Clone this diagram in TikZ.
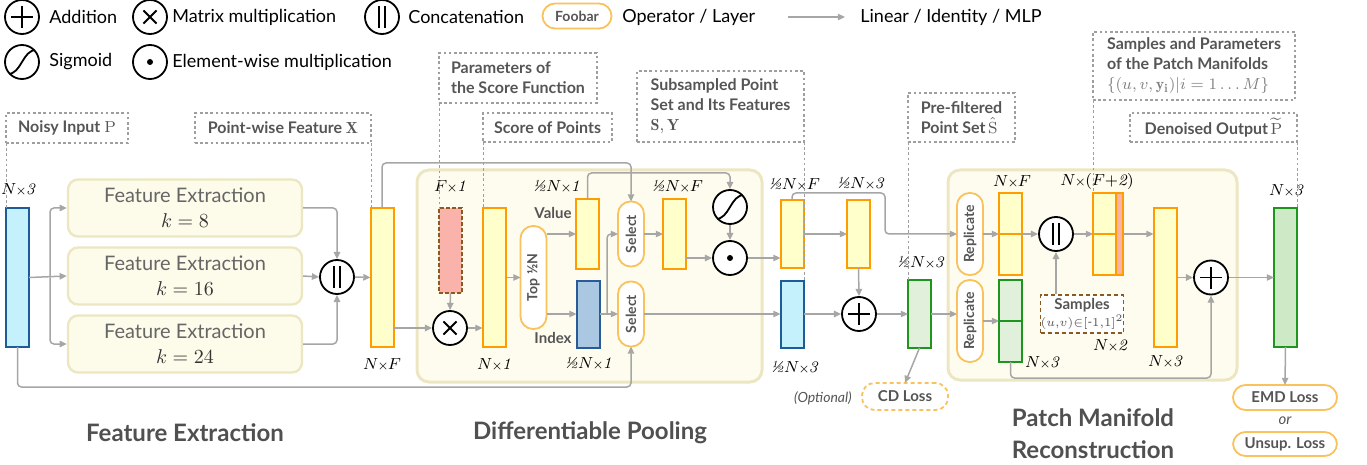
\documentclass[tikz,border=0pt]{standalone}
\usepackage{fontspec}
\newfontfamily\sansf{Lato}
\usetikzlibrary{arrows.meta}
\definecolor{arrgray}{HTML}{A6A6A6}
\definecolor{leadgray}{HTML}{9E9E9E}
\definecolor{notetxt}{HTML}{555555}
\definecolor{fetxt}{HTML}{666666}
\definecolor{ttlc}{HTML}{505050}
\definecolor{orng}{HTML}{FF9C00}
\definecolor{yel}{HTML}{FFFFCC}
\definecolor{cyanf}{HTML}{C4F1FC}
\definecolor{cyand}{HTML}{1C5C99}
\definecolor{idxf}{HTML}{AAC8E2}
\definecolor{idxd}{HTML}{295B96}
\definecolor{pinkf}{HTML}{F9B3AA}
\definecolor{brn}{HTML}{8B5A22}
\definecolor{grnf}{HTML}{E0F0DA}
\definecolor{grnf2}{HTML}{CDE9C6}
\definecolor{grnd}{HTML}{1E961E}
\definecolor{pillc}{HTML}{F9C25C}
\definecolor{bgf}{HTML}{FEFCEE}
\definecolor{feF}{HTML}{FDFBEA}
\definecolor{bgd}{HTML}{ECE7C2}
\newcommand{\hf}{\mbox{\normalfont\itshape ½}}
\newcommand{\tm}{\mkern-1mu{\scriptstyle\times}\mkern-1mu}
\tikzset{
  arr/.style={draw=arrgray,line width=.75pt,rounded corners=2pt,-{Triangle[length=3.6pt,width=3.2pt]}},
  lead/.style={draw=leadgray,line width=.5pt,dash pattern=on 1.3pt off 1.3pt},
  note/.style={draw=leadgray,line width=.6pt,dash pattern=on 1.3pt off 1.3pt,align=left,inner sep=0pt,outer sep=0pt,text=notetxt,font=\sansf\bfseries\fontsize{8}{10}\selectfont},
  grp/.style={draw=bgd,fill=bgf,line width=1.5pt,rounded corners=6pt,inner sep=0pt,outer sep=0pt},
  blk/.style={line width=1pt,minimum width=11.5pt,inner sep=0pt,outer sep=0pt},
  yblk/.style={blk,draw=orng,fill=yel},
  cblk/.style={blk,draw=cyand,fill=cyanf},
  iblk/.style={blk,draw=idxd,fill=idxf},
  gblk/.style={blk,draw=grnd,fill=grnf},
  tall/.style={minimum height=69.5pt},
  op/.style={circle,draw,line width=.9pt,minimum size=17pt,inner sep=0pt,fill=white},
  opadd/.style={op,path picture={\draw[black,line width=.9pt,shift={(path picture bounding box.center)}] (-5.5pt,0pt)--(5.5pt,0pt) (0pt,-5.5pt)--(0pt,5.5pt);}},
  opmul/.style={op,path picture={\draw[black,line width=.9pt,shift={(path picture bounding box.center)}] (-3.3pt,-3.3pt)--(3.3pt,3.3pt) (-3.3pt,3.3pt)--(3.3pt,-3.3pt);}},
  opcat/.style={op,path picture={\draw[black,line width=.9pt,shift={(path picture bounding box.center)}] (-1.6pt,-5.5pt)--(-1.6pt,5.5pt) (1.6pt,-5.5pt)--(1.6pt,5.5pt);}},
  opsig/.style={op,path picture={\draw[black,line width=.9pt,shift={(path picture bounding box.center)}] (-7.5pt,-6pt) .. controls (0pt,-6.5pt) and (0pt,6.5pt) .. (7.5pt,6pt);}},
  opdot/.style={op,path picture={\fill[black,shift={(path picture bounding box.center)}] (0pt,0pt) circle (1.5pt);}},
  pill/.style={draw=pillc,line width=.9pt,fill=white,rounded corners=6.25pt,inner sep=0pt,outer sep=0pt,text=notetxt,font=\sansf\bfseries\fontsize{7}{8}\selectfont},
  vpill/.style={pill,rotate=90,minimum height=13pt},
  febox/.style={draw=bgd,fill=feF,line width=1.2pt,rounded corners=5pt,minimum width=117pt,minimum height=28.5pt,inner sep=0pt,align=center,text=fetxt,font=\sansf\fontsize{10}{12.5}\selectfont},
  lbl/.style={inner sep=0pt,font=\fontsize{8}{10}\selectfont},
  lgtxt/.style={anchor=west,inner sep=0pt,font=\sansf\fontsize{9}{10}\selectfont},
  ttl/.style={align=center,text=ttlc,font=\sansf\bfseries\fontsize{12}{16}\selectfont},
}
\begin{document}
\begin{tikzpicture}[x=0.5pt,y=-0.5pt]
\useasboundingbox (0,0) rectangle (1367,465);
% legend
\foreach \nm/\st/\xx/\yy/\tx/\txt in {Add/opadd/22/17/49/Addition, Mul/opmul/150/17/172/Matrix multiplication, Cat/opcat/382/17/408/Concatenation, Sig/opsig/22/62/49/Sigmoid, Dot/opdot/150/62/172/Element-wise multiplication}{
  \node[\st] (lg\nm) at (\xx,\yy) {};
  \node[lgtxt] (lg\nm T) at (\tx,\yy) {\txt};
}
\node[pill,minimum width=34.5pt,minimum height=12.5pt] (lgOp) at (577,16) {Foobar};
\node[lgtxt] (lgOpT) at (622,17) {Operator / Layer};
\coordinate (lgA) at (788,17);
\coordinate (lgB) at (845,17);
\draw[arr] (lgA) -- (lgB);
\node[lgtxt] (lgArrT) at (860,17) {Linear / Identity / MLP};
% groups
\node[grp,minimum width=172.5pt,minimum height=106pt] (gPool) at (589.5,276) {};
\node[grp,minimum width=144.5pt,minimum height=105pt] (gPatch) at (1092.5,275) {};
% feature extraction
\node[cblk,tall] (inp) at (17.5,277.5) {};
\node[febox] (fe1) at (185,208) {Feature Extraction\\{\color{black!80}$k = 8$}};
\node[febox] (fe2) at (185,276) {Feature Extraction\\{\color{black!80}$k = 16$}};
\node[febox] (fe3) at (185,344) {Feature Extraction\\{\color{black!80}$k = 24$}};
\node[opcat] (cat1) at (337,277) {};
\node[yblk,tall] (xf) at (382,277.5) {};
% differentiable pooling
\node[blk,draw=brn,fill=pinkf,dash pattern=on 2pt off 1pt,minimum height=42.5pt] (wsc) at (450.5,250.5) {};
\node[opmul] (mm) at (450,328) {};
\node[yblk,tall] (sc) at (494,277.5) {};
\node[vpill,minimum width=51.5pt] (topk) at (533.5,277.5) {Top ½N};
\node[yblk,minimum height=34.5pt] (val) at (587.5,234) {};
\node[iblk,minimum height=33.5pt] (idx) at (588,314) {};
\node[inner sep=0pt,text=notetxt,font=\sansf\bfseries\fontsize{7.5}{9}\selectfont] (valT) at (553,213) {Value};
\node[inner sep=0pt,text=notetxt,font=\sansf\bfseries\fontsize{7.5}{9}\selectfont] (idxT) at (553,338) {Index};
\node[vpill,minimum width=32.5pt] (sel1) at (631,234) {Select};
\node[vpill,minimum width=32.5pt] (sel2) at (631,314) {Select};
\node[yblk,minimum height=34.5pt] (yf) at (674.5,234) {};
\node[opsig] (sig) at (730,207) {};
\node[opdot] (ew) at (730,258) {};
\node[yblk,minimum height=34pt] (yo) at (792,234) {};
\node[cblk,minimum height=33.5pt] (so) at (792,314) {};
\node[yblk,minimum height=34pt] (dp) at (858.5,234) {};
\node[opadd] (add1) at (859,314) {};
\node[gblk,minimum height=34pt] (sh) at (919.5,314) {};
\node[pill,dash pattern=on 2pt off 1.5pt,minimum width=43pt,minimum height=13.5pt,font=\sansf\bfseries\fontsize{7.5}{9}\selectfont] (cd) at (905,396.5) {CD Loss};
\node[inner sep=0pt,text=notetxt,font=\sansf\itshape\fontsize{7}{8}\selectfont] (optT) at (823,398) {(Optional)};
% patch manifold reconstruction
\node[vpill,minimum width=41pt] (rep1) at (970,234) {Replicate};
\node[vpill,minimum width=41pt] (rep2) at (970,321) {Replicate};
\node[yblk,minimum height=41pt] (rf) at (1010.5,234) {};
\node[gblk,minimum height=41pt] (rp) at (1010.5,321) {};
\draw[orng,line width=1pt] (rf.west) -- (rf.east);
\draw[grnd,line width=1pt] (rp.west) -- (rp.east);
\node[opcat] (cat2) at (1056,234) {};
\node[draw=brn,line width=.9pt,dash pattern=on 2pt off 1.5pt,fill=white,minimum width=41pt,minimum height=19pt,inner sep=0pt,align=center,text=notetxt,font=\sansf\bfseries\fontsize{7.5}{8.5}\selectfont] (smp) at (1082,314) {Samples\\{\mdseries\fontsize{6.2}{7.5}\selectfont$(u{,}v){\in}[\mbox{-}1{,}1]^2$}};
\node[yblk,minimum width=15pt,minimum height=41pt] (fp) at (1108,234) {};
\node[blk,draw=orng,fill=pinkf,minimum width=3.5pt,minimum height=41pt] (fpp) at (1119.5,234) {};
\draw[orng,line width=1pt] (fp.west) -- (fpp.west);
\node[yblk,tall] (dn) at (1165,277.5) {};
\node[opadd] (add2) at (1211,277.5) {};
\node[blk,draw=grnd,fill=grnf2,tall] (out) at (1285.5,277.5) {};
\node[pill,minimum width=52pt,minimum height=12.5pt,font=\sansf\bfseries\fontsize{7.5}{9}\selectfont] (emd) at (1285,397.5) {EMD Loss};
\node[inner sep=0pt,text=notetxt,font=\sansf\itshape\fontsize{7.5}{9}\selectfont] (orT) at (1285,421) {or};
\node[pill,minimum width=52pt,minimum height=12pt,font=\sansf\bfseries\fontsize{7.5}{9}\selectfont] (uns) at (1285,444) {Unsup. Loss};
% sizes
\foreach \nm/\xx/\yy/\txt in {dInp/18/190/{$N\tm\mathit{3}$}, dXf/382/365/{$N\tm F$}, dWsc/450/187/{$F\tm\mathit{1}$}, dSc/494/365/{$N\tm\mathit{1}$}, dVal/556/187/{$\hf N\tm\mathit{1}$}, dIdx/588/364/{$\hf N\tm\mathit{1}$}, dYf/677/187/{$\hf N\tm F$}, dYo/794/185/{$\hf N\tm F$}, dDp/860/184/{$\hf N\tm\mathit{3}$}, dSo/794/368/{$\hf N\tm\mathit{3}$}, dSh/920/263/{$\hf N\tm\mathit{3}$}, dRf/1012/182/{$N\tm F$}, dRp/1042/363/{$N\tm\mathit{3}$}, dFp/1097/182/{$N\tm(F{+}\mathit{2})$}, dSmp/1110/346/{$N\tm\mathit{2}$}, dDn/1165/362/{$N\tm\mathit{3}$}, dOut/1286/191/{$N\tm\mathit{3}$}}
  \node[lbl] (\nm) at (\xx,\yy) {\txt};
% notes
\node[note,minimum width=61pt,minimum height=15pt] (nNoisy) at (67,128) {Noisy Input $\mathrm{P}$};
\node[note,minimum width=88pt,minimum height=15pt] (nPw) at (283,128) {Point-wise Feature $\mathbf{X}$};
\node[note,minimum width=79pt,minimum height=25pt] (nPar) at (518,78) {Parameters of\\the Score Function};
\node[note,minimum width=64.5pt,minimum height=14.5pt] (nScore) at (547.5,127.5) {Score of Points};
\node[note,minimum width=83.5pt,minimum height=35.5pt] (nSub) at (720.5,106.5) {Subsampled Point\\Set and Its Features\\$\mathbf{S},\mathbf{Y}$};
\node[note,minimum width=53.5pt,minimum height=24.5pt] (nPre) at (961.5,117.5) {Pre-filtered\\Point Set\,$\hat{\mathrm{S}}$};
\node[note,minimum width=101pt,minimum height=34pt] (nSam) at (1194,66) {Samples and Parameters\\of the Patch Manifolds\\{\color{gray}$\{(u,v,\mathbf{y}_\mathbf{i})|i=1\dots M\}$}};
\node[note,minimum width=83.5pt,minimum height=14.5pt] (nDen) at (1213.5,127.5) {Denoised Output\,$\widetilde{\mathrm{P}}$};
\draw[lead] (nNoisy.south west) -- (nNoisy.south west |- inp.north);
\draw[lead] (nPw.south east) -- (nPw.south east |- xf.north);
\draw[lead] (nPar.south west) -- (nPar.south west |- wsc.north);
\draw[lead] (nScore.south west) -- (nScore.south west |- sc.north);
\draw[lead] (nSub.south east) -- (nSub.south east |- so.north);
\draw[lead] (nPre.south west) -- (nPre.south west |- sh.north);
\draw[lead] (nSam.south west) -- (nSam.south west |- fp.north);
\draw[lead] (nDen.south east) -- (nDen.south east |- out.north);
% connectors
\coordinate (br1) at (50,277.5);
\coordinate (br2) at (607,314);
\coordinate (topbus) at (0,163);
\coordinate (vbus) at (0,173);
\coordinate (lowbus) at (0,387);
\coordinate (ybend) at (885,193);
\coordinate (rbus) at (0,378);
\draw[arr] (inp.east) -- (fe2.west);
\draw[arr] (br1) |- (fe1.west);
\draw[arr] (br1) |- (fe3.west);
\draw[arr] (fe1.east) -| (cat1.north);
\draw[arr] (fe2.east) -- (cat1.west);
\draw[arr] (fe3.east) -| (cat1.south);
\draw[arr] (cat1.east) -- (xf.west);
\draw[arr] (inp.south) |- (sel2.west |- lowbus) -- (sel2.west);
\draw[arr] (xf.north) |- (sel1.east |- topbus) -- (sel1.east);
\draw[arr] (xf.east |- mm) -- (mm.west);
\draw[arr] (wsc.south) -- (mm.north);
\draw[arr] (mm.east) -- (mm.east -| sc.west);
\draw[arr] (sc.east) -- (topk.north);
\draw[arr] (topk.south |- val) -- (val.west);
\draw[arr] (topk.south |- idx) -- (idx.west);
\draw[arr] (val.north) |- (sig.north |- vbus) -- (sig.north);
\draw[arr] (idx.east) -- (sel2.north);
\draw[arr] (br2) |- (sel1.north);
\draw[arr] (sel1.south) -- (yf.west);
\draw[arr] (yf.east |- ew) -- (ew.west);
\draw[arr] (sig.south) -- (ew.north);
\draw[arr] (ew.east) -- (ew.east -| yo.west);
\draw[arr] (sel2.south) -- (sel2.south -| so.west);
\draw[arr] (yo.north) |- (ybend) |- (rep1.north);
\draw[arr] (yo.east) -- (dp.west);
\draw[arr] (dp.south) -- (add1.north);
\draw[arr] (so.east) -- (add1.west);
\draw[arr] (add1.east) -- (sh.west);
\draw[arr] (sh.south) -- (cd.north);
\draw[arr] (sh.east) -- (sh.east -| rep2.north);
\draw[arr] (rep1.south) -- (rf.west);
\draw[arr] (rep2.south) -- (rp.west);
\draw[arr] (rf.east) -- (cat2.west);
\draw[arr] (cat2.south |- smp.north) -- (cat2.south);
\draw[arr] (cat2.east) -- (fp.west);
\draw[arr] (fpp.east) -- (fpp.east -| dn.west);
\draw[arr] (dn.east) -- (add2.west);
\draw[arr] (rp.south) |- (add2.south |- rbus) -- (add2.south);
\draw[arr] (add2.east) -- (out.west);
\draw[arr] (out.south) -- (emd.north);
% titles
\node[ttl] (tFE) at (185,433) {Feature Extraction};
\node[ttl] (tDP) at (590,433) {Differentiable Pooling};
\node[ttl] (tPM) at (1093,434) {Patch Manifold\\Reconstruction};
\end{tikzpicture}
\end{document}
